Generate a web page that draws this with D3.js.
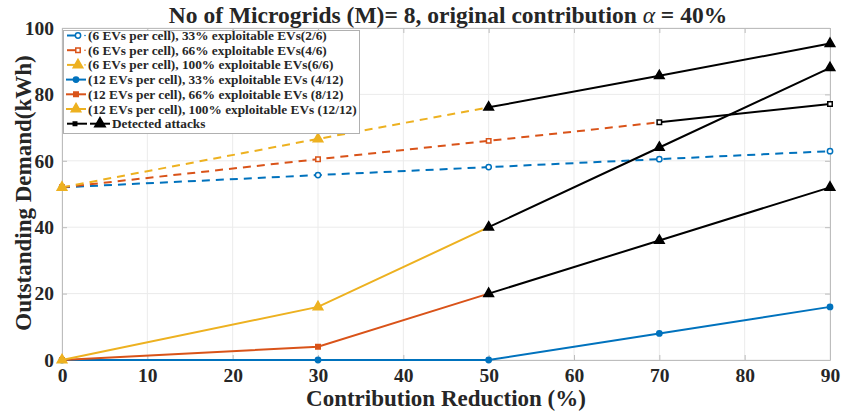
<!DOCTYPE html>
<html>
<head>
<meta charset="utf-8">
<script src="https://cdn.jsdelivr.net/npm/d3@7"></script>
<style>
body { margin: 0; background: #fff; }
text { font-family: "Liberation Serif", "Times New Roman", serif; font-weight: bold; fill: #262626; }
</style>
</head>
<body>
<div id="chart"></div>
<script>
// contribution reduction (%)
var xValues = [0, 30, 50, 70, 90];
var xTicks = [0, 10, 20, 30, 40, 50, 60, 70, 80, 90];
var yTicks = [0, 20, 40, 60, 80, 100];

// outstanding demand per series
var ev6_33 = [52, 55.7, 58.1, 60.5, 62.9];
var ev6_66 = [52, 60.5, 66, 71.6, 77.1];
var ev6_100 = [52, 66.6, 76.1, 85.6, 95.3];
var ev12_33 = [0, 0, 0, 8, 16];
var ev12_66 = [0, 4, 20, 36, 52];
var ev12_100 = [0, 16, 40, 64, 88];

var seriesNames = [
	"(6 EVs per cell), 33% exploitable EVs(2/6)",
	"(6 EVs per cell), 66% exploitable EVs(4/6)",
	"(6 EVs per cell), 100% exploitable EVs(6/6)",
	"(12 EVs per cell), 33% exploitable EVs (4/12)",
	"(12 EVs per cell), 66% exploitable EVs (8/12)",
	"(12 EVs per cell), 100% exploitable EVs (12/12)",
	"Detected attacks"
];

// index of the first point where the attack is detected (-1 = never)
var detectedFrom = [-1, 3, 2, -1, 2, 2];
var detectedMarker = [null, "square", "triangle", null, "triangle", "triangle"];

var colors = ["#0072BD", "#D95319", "#EDB120"];
var series = [
	{values: ev6_33, color: colors[0], dashed: true, marker: "circle", open: true},
	{values: ev6_66, color: colors[1], dashed: true, marker: "square", open: true},
	{values: ev6_100, color: colors[2], dashed: true, marker: "triangle", open: false},
	{values: ev12_33, color: colors[0], dashed: false, marker: "circle", open: false},
	{values: ev12_66, color: colors[1], dashed: false, marker: "square", open: false},
	{values: ev12_100, color: colors[2], dashed: false, marker: "triangle", open: false}
];

var width = 844, height = 412;
var margin = {left: 62, right: 14, top: 28, bottom: 52};

var svg = d3.select("#chart").append("svg")
	.attr("width", width)
	.attr("height", height);

var x = d3.scaleLinear().domain([0, 90]).range([margin.left, width - margin.right]);
var y = d3.scaleLinear().domain([0, 100]).range([height - margin.bottom, margin.top]);

// grid
svg.append("g").selectAll("line.gx")
	.data(xTicks)
	.enter().append("line")
	.attr("x1", function(d) { return x(d); })
	.attr("x2", function(d) { return x(d); })
	.attr("y1", y(0))
	.attr("y2", y(100))
	.attr("stroke", "#ebebeb")
	.attr("stroke-width", 1);

svg.append("g").selectAll("line.gy")
	.data(yTicks)
	.enter().append("line")
	.attr("x1", x(0))
	.attr("x2", x(90))
	.attr("y1", function(d) { return y(d); })
	.attr("y2", function(d) { return y(d); })
	.attr("stroke", "#ebebeb")
	.attr("stroke-width", 1);

// axes
var xAxis = svg.append("g")
	.attr("transform", "translate(0," + y(0) + ")")
	.call(d3.axisBottom(x).tickValues(xTicks).tickSizeInner(-5).tickSizeOuter(0).tickPadding(8));
var yAxis = svg.append("g")
	.attr("transform", "translate(" + x(0) + ",0)")
	.call(d3.axisLeft(y).tickValues(yTicks).tickSizeInner(-5).tickSizeOuter(0).tickPadding(8));
var xAxisTop = svg.append("g")
	.attr("transform", "translate(0," + y(100) + ")")
	.call(d3.axisTop(x).tickValues(xTicks).tickSizeInner(-5).tickSizeOuter(0).tickFormat(""));
var yAxisRight = svg.append("g")
	.attr("transform", "translate(" + x(90) + ",0)")
	.call(d3.axisRight(y).tickValues(yTicks).tickSizeInner(-5).tickSizeOuter(0).tickFormat(""));

[xAxis, yAxis, xAxisTop, yAxisRight].forEach(function(a) {
	a.selectAll("path").attr("stroke", "#bdbdbd");
	a.selectAll("line").attr("stroke", "#bdbdbd");
	a.selectAll("text")
		.style("font-size", "19.5px")
		.style("font-family", "'Liberation Serif', serif")
		.style("font-weight", "bold")
		.attr("fill", "#262626");
});

var symbolTypes = {circle: d3.symbolCircle, square: d3.symbolSquare, triangle: d3.symbolTriangle};
var symbolSizes = {circle: 22, square: 20, triangle: 40};

function drawMarker(g, type, cx, cy, color, open, scale) {
	var s = scale || 1;
	g.append("path")
		.attr("d", d3.symbol().type(symbolTypes[type]).size(symbolSizes[type] * s)())
		.attr("transform", "translate(" + cx + "," + cy + ")")
		.attr("fill", open ? "#fff" : color)
		.attr("stroke", color)
		.attr("stroke-width", 1.5);
}

var line = d3.line()
	.x(function(d) { return x(d[0]); })
	.y(function(d) { return y(d[1]); });

// plotted series
var plot = svg.append("g");
series.forEach(function(s, i) {
	var pts = xValues.map(function(v, j) { return [v, s.values[j]]; });
	var last = detectedFrom[i] >= 0 ? detectedFrom[i] : pts.length - 1;
	plot.append("path")
		.datum(pts.slice(0, last + 1))
		.attr("d", line)
		.attr("fill", "none")
		.attr("stroke", s.color)
		.attr("stroke-width", 2)
		.attr("stroke-dasharray", s.dashed ? "8,6" : null);
	pts.slice(0, last + 1).forEach(function(p, j) {
		if (detectedFrom[i] >= 0 && j == last) return;
		drawMarker(plot, s.marker, x(p[0]), y(p[1]), s.color, s.open);
	});
});

// detected attack segments
series.forEach(function(s, i) {
	if (detectedFrom[i] < 0) return;
	var pts = xValues.map(function(v, j) { return [v, s.values[j]]; }).slice(detectedFrom[i]);
	plot.append("path")
		.datum(pts)
		.attr("d", line)
		.attr("fill", "none")
		.attr("stroke", "#000")
		.attr("stroke-width", 2);
	pts.forEach(function(p) {
		var m = detectedMarker[i];
		drawMarker(plot, m, x(p[0]), y(p[1]), "#000", m == "square", 1);
	});
});

// title
svg.append("text")
	.attr("x", 448)
	.attr("y", 23)
	.attr("text-anchor", "middle")
	.style("font-size", "23.5px")
	.text("No of Microgrids (M)= 8, original contribution ")
	.append("tspan").style("font-style", "italic").style("font-weight", "normal").text("\u03b1")
	.select(function() { return this.parentNode; })
	.append("tspan").text(" = 40%");

// axis labels
svg.append("text")
	.attr("x", x(45))
	.attr("y", 406)
	.attr("text-anchor", "middle")
	.style("font-size", "23px")
	.text("Contribution Reduction (%)");

svg.append("text")
	.attr("transform", "translate(31," + 193 + ") rotate(-90)")
	.attr("text-anchor", "middle")
	.style("font-size", "23px")
	.text("Outstanding Demand(kWh)");

// legend
var legend = svg.append("g");
legend.append("rect")
	.attr("x", 63.5)
	.attr("y", 30.5)
	.attr("width", 296)
	.attr("height", 103)
	.attr("fill", "#fff")
	.attr("stroke", "#b0b0b0")
	.attr("stroke-width", 1);

seriesNames.forEach(function(name, i) {
	var cy = 35.5 + i * 14.7;
	var g = legend.append("g");
	if (i < 6) {
		var s = series[i];
		if (s.dashed) {
			g.append("line").attr("x1", 67).attr("x2", 80).attr("y1", cy).attr("y2", cy)
				.attr("stroke", s.color).attr("stroke-width", 2);
			drawMarker(g, s.marker, 78, cy, s.color, s.open);
			g.append("circle").attr("cx", 85).attr("cy", cy).attr("r", 0.8).attr("fill", s.color);
		} else {
			g.append("line").attr("x1", 66).attr("x2", 86).attr("y1", cy).attr("y2", cy)
				.attr("stroke", s.color).attr("stroke-width", 2);
			drawMarker(g, s.marker, 76, cy, s.color, false);
		}
	} else {
		g.append("line").attr("x1", 67).attr("x2", 87).attr("y1", cy).attr("y2", cy)
			.attr("stroke", "#000").attr("stroke-width", 2);
		drawMarker(g, "square", 75, cy, "#000", false, 0.6);
		g.append("line").attr("x1", 90).attr("x2", 110).attr("y1", cy).attr("y2", cy)
			.attr("stroke", "#000").attr("stroke-width", 2);
		drawMarker(g, "triangle", 100, cy, "#000", false, 1.2);
	}
	g.append("text")
		.attr("x", i < 6 ? 88 : 112)
		.attr("y", cy + 4.5)
		.style("font-size", "13.3px")
		.text(name);
});
</script>
</body>
</html>
